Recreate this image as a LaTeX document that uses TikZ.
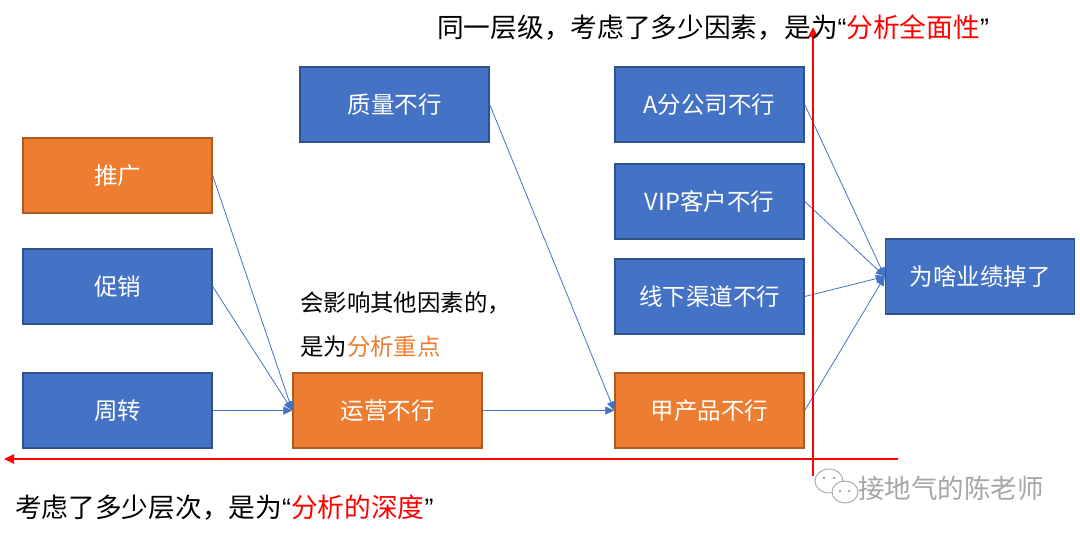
\documentclass[tikz,border=0pt]{standalone}
\usepackage{fontspec}
\setmainfont{Noto Sans CJK SC}
\newfontfamily\latinq{Liberation Sans}
\newcommand{\myLq}{{\latinq “}}
\newcommand{\myRq}{{\latinq ”}}
\usetikzlibrary{arrows.meta}
\definecolor{bfill}{HTML}{4472C4}
\definecolor{bdraw}{HTML}{2F528F}
\definecolor{ofill}{HTML}{ED7D31}
\definecolor{odraw}{HTML}{AE5A21}
\definecolor{lnk}{HTML}{4472C4}
\definecolor{txtorange}{HTML}{ED7D31}
\definecolor{wm}{HTML}{A6A6A6}
\tikzset{
  box/.style={rectangle, minimum width=189pt, minimum height=75pt, inner sep=0pt,
     text=white, font=\fontsize{23.5}{27}\selectfont, line width=1.4pt},
  bluebox/.style={box, fill=bfill, draw=bdraw},
  orangebox/.style={box, fill=ofill, draw=odraw},
  link/.style={draw=lnk, line width=0.8pt, -{Triangle[length=9pt,width=8pt]}},
  redline/.style={draw=red, line width=2.4pt, -{Triangle[length=10pt,width=9pt]}},
  note/.style={anchor=west, inner sep=0pt, text=black},
}
\begin{document}
\begin{tikzpicture}[x=1pt,y=-1pt]
\useasboundingbox[fill=white] (0,0) rectangle (1080,537);
% boxes
\node[orangebox] (tg) at (117.5,175.5) {推广};
\node[bluebox] (cx) at (117.5,286.5) {促销};
\node[bluebox] (zz) at (117.5,410.5) {周转};
\node[bluebox] (zl) at (394.5,104.5) {质量不行};
\node[orangebox] (yy) at (387.5,410.5) {运营不行};
\node[bluebox] (af) at (709.5,104.5) {A分公司不行};
\node[bluebox] (vip) at (709.5,201.5) {VIP客户不行};
\node[bluebox] (xx) at (709.5,296.5) {线下渠道不行};
\node[orangebox] (jc) at (709.5,410.5) {甲产品不行};
\node[bluebox] (wh) at (980,276.5) {为啥业绩掉了};
% links
\draw[link] (tg.east) -- (yy.west);
\draw[link] (cx.east) -- (yy.west);
\draw[link] (zz.east) -- (yy.west);
\draw[link] (zl.east) -- (jc.west);
\draw[link] (yy.east) -- (jc.west);
\draw[link] (af.east) -- (wh.west);
\draw[link] (vip.east) -- (wh.west);
\draw[link] (xx.east) -- (wh.west);
\draw[link] (jc.east) -- (wh.west);
% red axes
\coordinate (vb) at (813,476);
\coordinate (vt) at (813,27);
\coordinate (hr) at (898,459);
\coordinate (hl) at (4,459);
\draw[redline] (vb) -- (vt);
\draw[redline] (hr) -- (hl);
% texts
\node[note, font=\fontsize{26.7}{30}\selectfont] (top) at (437,28) {同一层级，考虑了多少因素，是为\myLq\textcolor{red}{分析全面性}\myRq};
\node[note, font=\fontsize{26.7}{30}\selectfont] (bot) at (15,508) {考虑了多少层次，是为\myLq\textcolor{red}{分析的深度}\myRq};
\node[note, font=\fontsize{23.4}{27}\selectfont] (m1) at (300,303) {会影响其他因素的，};
\node[note, font=\fontsize{23.4}{27}\selectfont] (m2) at (300,347) {是为\textcolor{txtorange}{分析重点}};
% watermark
\begin{scope}[draw=wm, fill=white, line width=0.9pt]
\filldraw (829,481) ellipse (14pt and 12pt);
\filldraw (845,492) ellipse (13pt and 11pt);
\fill[wm] (824,478) circle (1.4pt) (834,478) circle (1.4pt);
\fill[wm] (840,491) circle (1.4pt) (849,491) circle (1.4pt);
\end{scope}
\node[note, text=wm, font=\fontsize{26.5}{30}\selectfont] (wmt) at (858,488) {接地气的陈老师};
\end{tikzpicture}
\end{document}
